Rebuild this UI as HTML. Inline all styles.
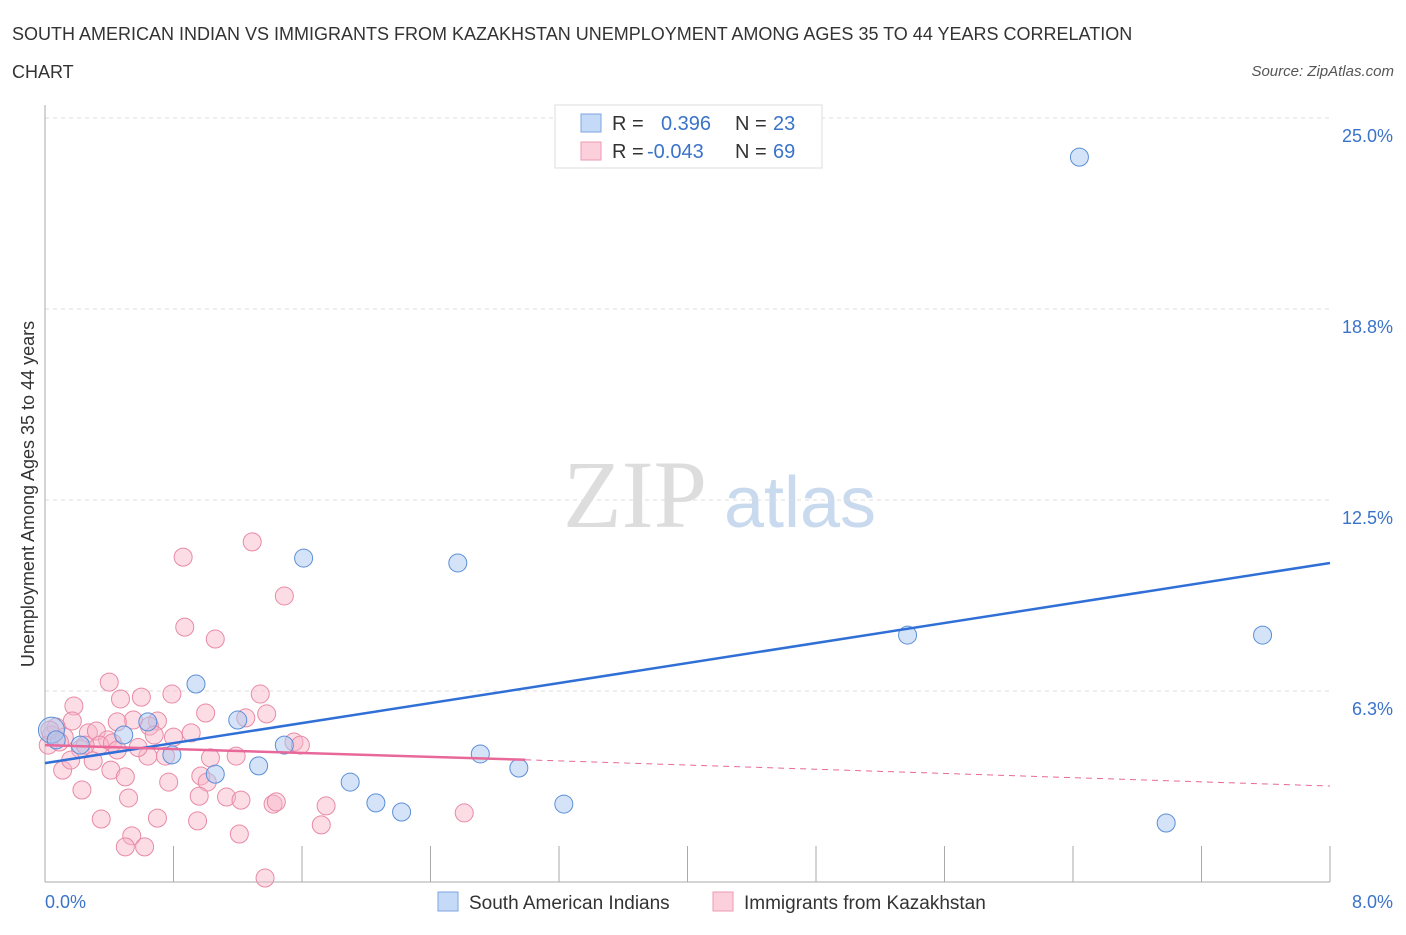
<!DOCTYPE html>
<html><head><meta charset="utf-8"><style>
body{margin:0;background:#fff;font-family:"Liberation Sans",sans-serif;}
svg text{font-family:"Liberation Sans",sans-serif;}
</style></head><body>
<svg width="1406" height="930" xmlns="http://www.w3.org/2000/svg">
<text x="12" y="40" font-size="18" fill="#333">SOUTH AMERICAN INDIAN VS IMMIGRANTS FROM KAZAKHSTAN UNEMPLOYMENT AMONG AGES 35 TO 44 YEARS CORRELATION</text>
<text x="12" y="78" font-size="18" fill="#333">CHART</text>
<text x="1394" y="76" font-size="15" fill="#555" text-anchor="end" font-style="italic">Source: ZipAtlas.com</text>
<text x="635" y="527" font-size="96" fill="#ddd" font-family="Liberation Serif" text-anchor="middle" style="font-family:'Liberation Serif',serif">ZIP</text>
<text x="800" y="527" font-size="72" fill="#c9d9ee" text-anchor="middle">atlas</text>
<g id="grid"></g>
<g id="axes"></g>
<g id="pts"></g>
<g id="lines"></g>
<text transform="translate(34,494) rotate(-90)" font-size="18" fill="#333" text-anchor="middle">Unemployment Among Ages 35 to 44 years</text>
<text x="45" y="908" font-size="18" fill="#3a73c9">0.0%</text>
<text x="1393" y="908" font-size="18" fill="#3a73c9" text-anchor="end">8.0%</text>
<g>
<rect x="555" y="105" width="267" height="63" fill="#fff" stroke="#ddd"/>
<rect x="581" y="114" width="20" height="18" fill="#c5daf6" stroke="#7ea6e0"/>
<rect x="581" y="142" width="20" height="18" fill="#fbd0dc" stroke="#ee9ab2"/>
<text x="612" y="130" font-size="20" fill="#333">R =</text>
<text x="661" y="130" font-size="20" fill="#3a73c9">0.396</text>
<text x="735" y="130" font-size="20" fill="#333">N =</text>
<text x="773" y="130" font-size="20" fill="#3a73c9">23</text>
<text x="612" y="158" font-size="20" fill="#333">R =</text>
<text x="647" y="158" font-size="20" fill="#3a73c9">-0.043</text>
<text x="735" y="158" font-size="20" fill="#333">N =</text>
<text x="773" y="158" font-size="20" fill="#3a73c9">69</text>
</g>
<g>
<rect x="438" y="892" width="20" height="19" fill="#c5daf6" stroke="#7ea6e0"/>
<text x="469" y="909" font-size="19" fill="#333">South American Indians</text>
<rect x="713" y="892" width="20" height="19" fill="#fbd0dc" stroke="#ee9ab2"/>
<text x="744" y="909" font-size="19" fill="#333">Immigrants from Kazakhstan</text>
</g>
</svg>
<script>
const yTicks=[6.25,12.5,18.75,25];
const yTickLabels=["6.3%","12.5%","18.8%","25.0%"];
const xTicks=[0,0.8,1.6,2.4,3.2,4.0,4.8,5.6,6.4,7.2,8.0];
const blueX=[6.44,1.61,2.57,5.37,7.58,0.94,1.20,0.64,0.49,0.04,1.49,0.79,2.71,1.33,2.95,1.06,1.90,2.06,2.22,3.23,6.98,0.22,0.07];
const blueY=[23.72,10.60,10.44,8.08,8.08,6.48,5.30,5.24,4.81,4.97,4.48,4.16,4.19,3.80,3.73,3.53,3.27,2.59,2.29,2.55,1.93,4.48,4.65];
const pinkX=[.86,1.29,1.49,.87,1.06,.40,.79,1.34,.47,.60,.18,1.00,1.38,.55,.45,.70,.17,1.25,.65,.91,.80,.68,.27,.32,.39,.04,.07,.12,.34,.42,.22,.64,.75,1.03,1.19,1.55,1.59,.30,.41,.11,.50,.97,.77,1.01,.23,.96,.52,1.13,1.22,1.42,1.75,.35,.70,.95,1.21,.54,1.72,2.61,.50,.62,1.37,.02,.03,.25,.09,.45,.16,1.44,.58];
const pinkY=[10.63,11.13,9.36,8.34,7.95,6.54,6.15,6.15,5.99,6.05,5.76,5.53,5.50,5.30,5.24,5.27,5.27,5.37,5.10,4.88,4.74,4.81,4.88,4.94,4.65,4.81,5.07,4.74,4.48,4.55,4.35,4.12,4.12,4.06,4.12,4.58,4.48,3.96,3.66,3.66,3.44,3.47,3.27,3.27,3.01,2.81,2.75,2.78,2.68,2.55,2.49,2.06,2.09,2.00,1.57,1.51,1.87,2.26,1.15,1.15,0.13,4.48,4.97,4.48,4.58,4.32,3.99,2.62,4.40];
const blueLine=[[0,3.89],[8,10.44]];
const pinkLine=[[0,4.48],[2.99,4.0],[8,3.14]];
const NS="http://www.w3.org/2000/svg";
const X=v=>45+v/8*1285, Y=v=>882-v/25*764;
function mk(t,a,p){const e=document.createElementNS(NS,t);for(const k in a)e.setAttribute(k,a[k]);document.getElementById(p).appendChild(e);return e;}
yTicks.forEach((t,i)=>{
 const l=mk('line',{x1:45,x2:1330,y1:Y(t),y2:Y(t),stroke:'#ddd','stroke-dasharray':'4,4'},'grid');
 
 
 const tx=mk('text',{x:1393,y:Y(t)+24,'font-size':18,fill:'#3a73c9','text-anchor':'end'},'grid');
 tx.textContent=yTickLabels[i];
 
 
});
let a=mk('line',{x1:45,x2:45,y1:105,y2:882,stroke:'#aaa'},'axes');


a=mk('line',{x1:45,x2:1330,y1:882,y2:882,stroke:'#aaa'},'axes');


xTicks.forEach(t=>{
 const l=mk('line',{x1:X(t),x2:X(t),y1:846,y2:882,stroke:'#aaa'},'axes');
 
 
});
pinkX.forEach((v,i)=>{
 const c=mk('circle',{cx:X(v),cy:Y(pinkY[i]),r:9,fill:'rgba(248,180,200,0.45)',stroke:'#e88aa6','stroke-width':1},'pts');
 
 
});
blueX.forEach((v,i)=>{
 const c=mk('circle',{cx:X(v),cy:Y(blueY[i]),r:i==9?13:9,fill:'rgba(170,200,240,0.5)',stroke:'#5b8fd8','stroke-width':1},'pts');
 
 
});
let ln=mk('line',{x1:X(blueLine[0][0]),y1:Y(blueLine[0][1]),x2:X(blueLine[1][0]),y2:Y(blueLine[1][1]),stroke:'#2f6fd6','stroke-width':2.5},'lines');


ln=mk('line',{x1:X(pinkLine[0][0]),y1:Y(pinkLine[0][1]),x2:X(pinkLine[1][0]),y2:Y(pinkLine[1][1]),stroke:'#e8689a','stroke-width':2.5},'lines');


ln=mk('line',{x1:X(pinkLine[1][0]),y1:Y(pinkLine[1][1]),x2:X(pinkLine[2][0]),y2:Y(pinkLine[2][1]),stroke:'#e8689a','stroke-width':1,'stroke-dasharray':'6,5'},'lines');


</script>
</body></html>
